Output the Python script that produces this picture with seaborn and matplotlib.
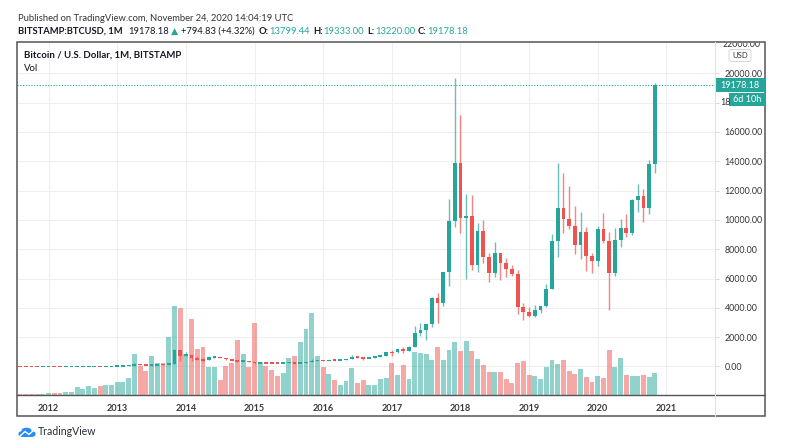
import numpy as np
import pandas as pd
import seaborn as sns
import matplotlib.pyplot as plt
from matplotlib.patches import Rectangle, FancyBboxPatch, Circle
from matplotlib.lines import Line2D
from matplotlib.transforms import blended_transform_factory, Bbox, TransformedBbox

# monthly BITSTAMP:BTCUSD candles, Aug 2011 .. Nov 2020
months = pd.date_range('2011-08-01', '2020-11-01', freq='MS')

opens = [10.9, 8.2, 5.1, 3.25, 2.97,
         4.25, 5.5, 4.9, 4.86, 5.0, 5.2, 6.7, 9.3, 10.2, 12.4, 11.2, 12.6,
         13.5, 20.4, 33.4, 93, 139, 129, 97, 106, 135, 133, 203, 1120,
         732, 800, 565, 450, 445, 630, 640, 586, 480, 387, 338, 378,
         320, 217, 254, 244, 236, 230, 263, 284, 230, 236, 314, 377,
         430, 369, 437, 416, 448, 531, 673, 622, 573, 608, 700, 745,
         963, 958, 1190, 1080, 1348, 2300, 2480, 2875, 4700, 4340, 6450, 9950,
         13850, 10100, 10300, 6930, 9240, 7500, 6390, 7730, 7030, 6630, 6300, 4030,
         3700, 3440, 3820, 4100, 5320, 8560, 10800, 10080, 9600, 8300, 9150, 7550,
         7200, 9350, 8540, 6410, 8630, 9450, 9140, 11340, 11650, 10780, 13799.44]

highs = [13.0, 8.9, 5.2, 3.5, 4.8,
         7.4, 6.3, 5.4, 5.2, 5.2, 6.8, 9.6, 15.4, 12.8, 12.6, 12.9, 13.8,
         20.8, 33.8, 95, 266, 139.9, 129.9, 110, 139, 139, 220, 1163, 1150,
         1000, 840, 720, 550, 630, 680, 660, 600, 495, 412, 460, 380,
         320, 265, 300, 260, 247, 267, 317, 285, 247, 328, 502, 468,
         462, 448, 439, 470, 545, 780, 704, 624, 614, 717, 756, 980,
         1153, 1200, 1350, 1400, 2760, 2980, 2920, 4760, 4980, 6470, 11400, 19666,
         17170, 11790, 11700, 9760, 9990, 7770, 8500, 7760, 7400, 6950, 6590, 4300,
         4080, 4200, 4130, 5600, 9060, 13880, 13170, 12330, 10950, 10540, 9500, 7750,
         9570, 10500, 9190, 9460, 10070, 10400, 11450, 12480, 12080, 14100, 19333.00]

lows = [7.6, 4.6, 2.2, 2.0, 2.7,
        4.2, 4.2, 4.4, 4.7, 4.9, 5.2, 6.5, 7.1, 9.9, 9.8, 10.3, 12.2,
        13.2, 19.5, 33, 50, 79, 88, 64, 96, 114, 103, 195, 400,
        730, 400, 440, 340, 420, 550, 570, 440, 370, 275, 320, 300,
        152, 212, 240, 214, 225, 221, 253, 198, 224, 235, 306, 349,
        354, 364, 392, 412, 442, 523, 606, 470, 570, 603, 682, 741,
        735, 920, 890, 1060, 1348, 2100, 1830, 2690, 2950, 4100, 5500, 9500,
        9100, 5970, 6600, 6430, 7040, 5750, 6110, 5880, 6100, 6200, 3560, 3150,
        3350, 3380, 3680, 4080, 5320, 7450, 9080, 9350, 7700, 7300, 6520, 6410,
        6880, 8450, 3850, 6170, 8130, 8830, 8980, 10550, 9880, 10380, 13220.00]

closes = [8.2, 5.1, 3.25, 2.97, 4.25,
          5.5, 4.9, 4.86, 5.0, 5.2, 6.7, 9.3, 10.2, 12.4, 11.2, 12.6, 13.5,
          20.4, 33.4, 93, 139, 129, 97, 106, 135, 133, 203, 1120, 732,
          800, 565, 450, 445, 630, 640, 586, 480, 387, 338, 378, 320,
          217, 254, 244, 236, 230, 263, 284, 230, 236, 314, 377, 430,
          369, 437, 416, 448, 531, 673, 622, 573, 608, 700, 745, 963,
          958, 1190, 1080, 1348, 2300, 2480, 2875, 4700, 4340, 6450, 9950, 13850,
          10100, 10300, 6930, 9240, 7500, 6390, 7730, 7030, 6630, 6300, 4030, 3700,
          3440, 3820, 4100, 5320, 8560, 10800, 10080, 9600, 8300, 9150, 7550, 7200,
          9350, 8540, 6410, 8630, 9450, 9140, 11340, 11650, 10780, 13800, 19178.18]

# volume, relative units
volume = [0.7, 0.8, 0.8, 0.7, 0.8, 1.2, 1.7, 1.8, 2.7, 2.7,
          7.3, 5.7, 8.7, 6.7, 8.7, 9.3, 9.3, 12.3, 12.3, 16.7,
          41, 28.3, 24, 38.3, 31.7, 31.7, 57.7, 88.3, 86.7, 41,
          76, 45.7, 47.7, 28, 27.3, 15, 28.3, 31.7, 54.3, 41,
          27.3, 71.7, 32.7, 28.3, 24.3, 19, 21.7, 36.7, 38.3, 52.3,
          65.7, 81.7, 39, 27.3, 20.7, 15, 10, 13.3, 26.7, 11.7,
          15, 9.3, 10, 15.7, 16.7, 31.3, 20, 29.7, 16, 42.7,
          41.7, 41, 35, 47.7, 35, 44.7, 52.3, 43.3, 54, 44,
          36, 30, 23, 23, 23, 15.7, 11.7, 32, 33.7, 20,
          19, 16, 27.3, 34.3, 31, 34.3, 24, 20.7, 26, 17.7,
          12.3, 19, 16.3, 44.7, 27.3, 36.3, 20, 19, 18.3, 20, 17.7, 21.3]

year_labels = [2012, 2013, 2014, 2015, 2016, 2017, 2018, 2019, 2020, 2021]
price_ticks = [0, 2000, 4000, 6000, 8000, 10000, 12000, 14000, 16000, 18000, 20000]
last_price = 19178.18

W, H = 786, 441
UP, DOWN = '#26a69a', '#ef5350'
GRID = '#efefef'
FRAME = '#555555'

sns.set_style('white')
plt.rcParams['font.family'] = ['Lato', 'DejaVu Sans']

fig = plt.figure(figsize=(W / 100, H / 100), dpi=100)
fig.patch.set_facecolor('white')


def fx(px):
    return px / W


def fy(py):
    return 1 - py / H


L, R, T, B, B2, RF = 17, 715, 42, 394.5, 416, 765

ax_vol = fig.add_axes([fx(L), fy(B), fx(R) - fx(L), fy(T) - fy(B)])
ax_px = ax_vol.twinx()

k = np.arange(len(months))
o, h, l, c = map(np.array, (opens, highs, lows, closes))
up = c >= o

df = pd.DataFrame({'k': k, 'volume': volume, 'dir': np.where(up, 'up', 'down')})

# grid (drawn under the volume bars)
ax_vol.vlines([5 + 12 * (y - 2012) for y in year_labels], 0, 1,
              transform=blended_transform_factory(ax_vol.transData, ax_vol.transAxes),
              colors=GRID, lw=0.8, zorder=0)
ax_vol.hlines(price_ticks, 0, 1,
              transform=blended_transform_factory(ax_vol.transAxes, ax_px.transData),
              colors=GRID, lw=0.8, zorder=0)

sns.barplot(data=df, x='k', y='volume', hue='dir', palette={'up': UP, 'down': DOWN},
            native_scale=True, dodge=False, width=0.86, saturation=1, alpha=0.5,
            linewidth=0, errorbar=None, legend=False, ax=ax_vol)

# candles
cols = np.where(up, UP, DOWN)
ax_px.vlines(k, l, h, colors=cols, lw=1.0, alpha=0.7, zorder=2)
body = np.abs(c - o)
small = body < 110
bottom = np.where(small, (o + c) / 2 - 55, np.minimum(o, c))
ax_px.bar(k, np.where(small, 110, body), bottom=bottom, width=0.66, color=cols,
          linewidth=0, zorder=3)
ax_px.axhline(last_price, color=UP, ls=(0, (1, 1.5)), lw=0.8, zorder=1)

ax_vol.set_xlim(-0.52, 121.5)
ax_vol.set_ylim(0, max(volume) * 4.0)
ax_px.set_ylim(-1910, 22135)

ax_vol.set_xticks([5 + 12 * (y - 2012) for y in year_labels])
ax_vol.set_xticklabels([str(y) for y in year_labels])
ax_vol.tick_params(axis='x', length=0, pad=7, labelsize=6.6, labelcolor='#3a3a3a')
for t in ax_vol.get_xticklabels():
    t.set_fontweight('bold')
ax_vol.set_yticks([])
ax_vol.set_xlabel('')
ax_vol.set_ylabel('')

# 18000 sits under the countdown box; only its first digits peek out
ax_px.set_yticks(price_ticks)
ax_px.set_yticklabels(['' if v == 18000 else f'{v:.2f}' for v in price_ticks])
ax_px.tick_params(axis='y', length=3, width=0.6, color='#d6d6d6', pad=4,
                  labelsize=6.4, labelcolor='#333333')

for a in (ax_vol, ax_px):
    for s in a.spines.values():
        s.set_visible(False)

# frame and separators
fig.add_artist(Rectangle((fx(L), fy(B2)), fx(RF) - fx(L), fy(T) - fy(B2),
                         transform=fig.transFigure, fill=False, ec=FRAME, lw=1.1))
fig.add_artist(Line2D([fx(L), fx(RF)], [fy(B), fy(B)], color=FRAME, lw=1.0))
fig.add_artist(Line2D([fx(R), fx(R)], [fy(T), fy(B2)], color='#e2e2e2', lw=0.8))

# top price label cut by the frame
top_lbl = fig.text(fx(723), fy(44.3), '22000.00', fontsize=6.4, color='#333333', va='center')
top_lbl.set_clip_box(TransformedBbox(Bbox([[0, 0], [1, fy(T + 0.5)]]), fig.transFigure))
top_lbl.set_clip_on(True)
y18 = ax_px.transData.transform((0, 18000))[1] / H
fig.text(fx(720.5), y18, '18', fontsize=6.4, color='#333333', va='center')

fig.add_artist(FancyBboxPatch((fx(729), fy(61.5)), fx(751) - fx(729), fy(49.5) - fy(61.5),
                              boxstyle='round,pad=0,rounding_size=0.004',
                              transform=fig.transFigure, fc='white', ec='#d0d0d0', lw=0.6))
fig.text(fx(740), fy(55.5), 'USD', fontsize=5.6, color='#333333', ha='center', va='center')

fig.add_artist(Rectangle((fx(R), fy(92)), fx(RF) - fx(R), fy(78.5) - fy(92),
                         transform=fig.transFigure, fc=UP, ec='none'))
fig.text(fx(740), fy(85.3), '19178.18', fontsize=6.6, color='white', ha='center', va='center')
fig.add_artist(Rectangle((fx(728.5), fy(106.5)), fx(RF) - fx(728.5), fy(93) - fy(106.5),
                         transform=fig.transFigure, fc=UP, ec='none'))
fig.text(fx(747), fy(99.8), '6d 10h', fontsize=6.6, color='white', ha='center', va='center')

renderer = fig.canvas.get_renderer()


def text_width(s, size, weight='normal'):
    t = fig.text(0, 0, s, fontsize=size, fontweight=weight)
    w = t.get_window_extent(renderer=renderer).width
    t.remove()
    return w


def seq_text(x, y, parts, size, dry=False):
    cur = x
    made = []
    for s, color, weight, gap in parts:
        t = fig.text(fx(cur), fy(y), s, fontsize=size, color=color, fontweight=weight,
                     ha='left', va='center')
        cur += t.get_window_extent(renderer=renderer).width + gap
        made.append(t)
    if dry:
        for t in made:
            t.remove()
    return cur - x


# header
line1 = 'Published on TradingView.com, November 24, 2020 14:04:19 UTC'
s1 = 10 * 277 / text_width(line1, 10)
fig.text(fx(18), fy(18.5), line1, fontsize=s1, color='#333333', va='center')

DARK = '#131722'
parts = [('BITSTAMP:BTCUSD, 1M', DARK, 'bold', 6),
         ('19178.18', DARK, 'normal', 2),
         ('▲', UP, 'normal', 2),
         ('+794.83 (+4.32%)', DARK, 'normal', 4),
         ('O:', DARK, 'bold', 1), ('13799.44', UP, 'normal', 3),
         ('H:', DARK, 'bold', 1), ('19333.00', UP, 'normal', 3),
         ('L:', DARK, 'bold', 1), ('13220.00', UP, 'normal', 3),
         ('C:', DARK, 'bold', 1), ('19178.18', UP, 'normal', 0)]
w2 = seq_text(18, 31, parts, 10, dry=True)
seq_text(18, 31, parts, 10 * 443 / w2)

title = 'Bitcoin / U.S. Dollar, 1M, BITSTAMP'
st = 10 * 157 / text_width(title, 10, 'bold')
fig.text(fx(24), fy(55), title, fontsize=st, fontweight='bold', color=DARK, va='center')
fig.text(fx(24), fy(68.5), 'Vol', fontsize=st, color=DARK, va='center')

# TradingView logo
logo_c = '#2a8bf2'
fig.add_artist(FancyBboxPatch((fx(18.5), fy(437)), fx(35.5) - fx(18.5), fy(431) - fy(437),
                              boxstyle='round,pad=0,rounding_size=0.006',
                              transform=fig.transFigure, fc=logo_c, ec='none'))
fig.add_artist(Circle((fx(26.5), fy(430.5)), fx(5) - fx(0), transform=fig.transFigure,
                      fc=logo_c, ec='none'))
fig.add_artist(Line2D([fx(20), fx(25), fx(29), fx(34)], [fy(436), fy(431.5), fy(434.5), fy(430)],
                      color='white', lw=1.0))
fig.text(fx(38), fy(431.5), 'TradingView', fontsize=7.6, color='#2a2e39', va='center')

fig.savefig('out.png', dpi=100)
